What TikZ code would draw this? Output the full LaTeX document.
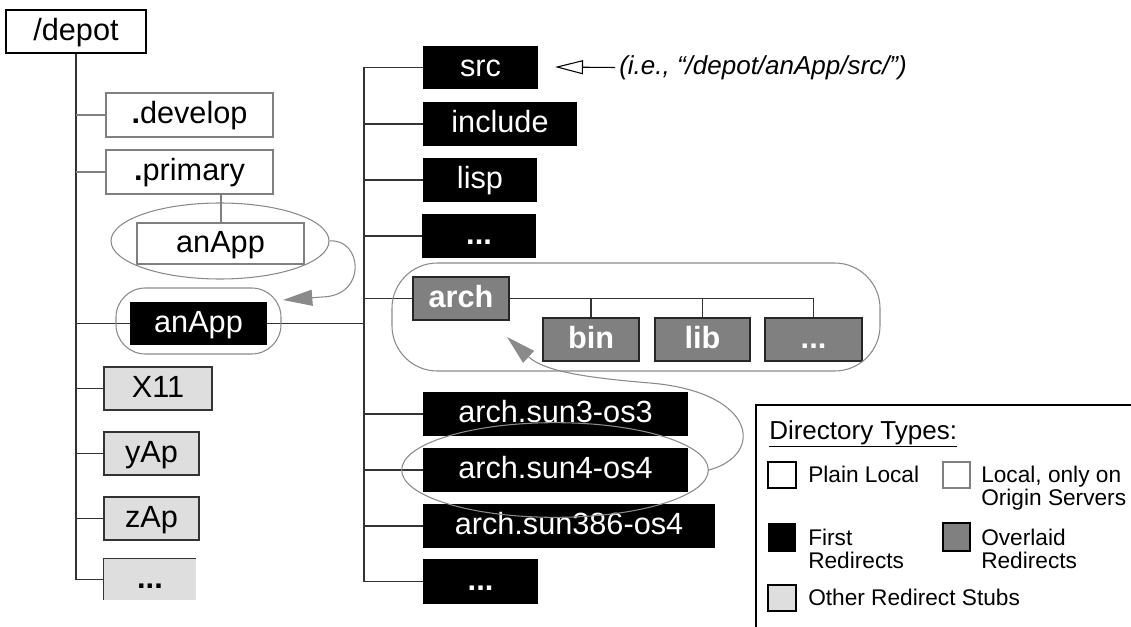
\documentclass[tikz,border=0pt]{standalone}
\usepackage{fontspec}
\setmainfont{Liberation Sans}
\usetikzlibrary{shapes.geometric,arrows.meta}
\definecolor{midgray}{HTML}{808080}
\definecolor{stubgray}{HTML}{DEDEDE}
\definecolor{halogray}{HTML}{8A8A8A}
\begin{document}
\begin{tikzpicture}[x=0.75pt,y=-0.75pt,
  rect/.style n args={4}{at={({(#1+#3)/2},{(#2+#4)/2})}, minimum width={(#3-#1)*0.75pt}, minimum height={(#4-#2)*0.75pt}},
  box/.style={inner sep=0pt, font=\fontsize{23}{26}\selectfont, text height=16pt, text depth=3pt},
  plainbox/.style={box, draw=black, fill=white, line width=1.1pt},
  originbox/.style={box, draw=midgray, fill=white, line width=1.5pt},
  firstbox/.style={box, fill=black, text=white},
  overbox/.style={box, fill=midgray, draw=black!85, line width=1pt, text=white, font=\fontsize{23}{26}\selectfont\bfseries},
  stubbox/.style={box, fill=stubgray, draw=black!80, line width=1pt},
  tree/.style={draw=black!80, line width=1pt},
  treegray/.style={draw=midgray, line width=1.5pt},
  halo/.style={draw=halogray, line width=0.8pt, inner sep=0pt},
  redir/.style={draw=halogray, line width=0.8pt, -{Triangle[length=22pt,width=12pt]}},
  legtext/.style={font=\fontsize{17}{17}\selectfont, inner sep=0pt, anchor=base west, align=left},
  legkey/.style={inner sep=0pt, line width=1.3pt}]
\useasboundingbox (0,0) rectangle (1131,627);

% ---- left column
\node (depot) [plainbox, rect={6}{10}{146}{53}] {/depot};
\node (develop) [originbox, rect={106}{93}{273}{137}] {\textbf{.}develop};
\node (primary) [originbox, rect={106}{150}{273}{194}] {\textbf{.}primary};
\node (anAppO) [originbox, rect={137}{223}{304}{264}] {anApp};
\node (anApp) [firstbox, rect={130}{302}{267}{345}] {anApp};
\node (x11) [stubbox, rect={104}{367}{212}{410}] {X11};
\node (yap) [stubbox, rect={104}{432}{199}{475}] {yAp};
\node (zap) [stubbox, rect={104}{497}{199}{540}] {zAp};
\node (ldots) [box, fill=stubgray, rect={104}{559}{196}{600}] {\textbf{...}};
\draw[tree] (ldots.south west) -- (ldots.north west) -- (ldots.north east);

% ---- right column
\node (src) [firstbox, rect={423}{46}{538}{89}] {src};
\node (include) [firstbox, rect={423}{102}{577}{146}] {include};
\node (lisp) [firstbox, rect={423}{158}{537}{202}] {lisp};
\node (rdots) [firstbox, rect={422}{214}{536}{258}] {\textbf{...}};
\node (arch) [overbox, rect={413}{277}{509}{320}] {arch};
\node (bin) [overbox, rect={543}{318}{639}{361}] {bin};
\node (lib) [overbox, rect={655}{318}{750}{361}] {lib};
\node (adots) [overbox, rect={765}{318}{862}{361}] {...};
\node (sun3) [firstbox, rect={423}{392}{688}{436}] {arch.sun3-os3};
\node (sun4) [firstbox, rect={423}{448}{688}{492}] {arch.sun4-os4};
\node (sun386) [firstbox, rect={423}{504}{715}{548}] {arch.sun386-os4};
\node (sdots) [firstbox, rect={423}{559}{538}{604}] {\textbf{...}};

% ---- left tree
\draw[tree] (depot.south) -- (depot.south |- ldots.west);
\draw[treegray] (depot.south |- develop.west) -- (develop.west);
\draw[treegray] (depot.south |- primary.west) -- (primary.west);
\draw[treegray] (primary.south -| anAppO.north) -- (anAppO.north);
\draw[tree] (depot.south |- anApp.west) -- (anApp.west);
\draw[tree] (depot.south |- x11.west) -- (x11.west);
\draw[tree] (depot.south |- yap.west) -- (yap.west);
\draw[tree] (depot.south |- zap.west) -- (zap.west);
\draw[tree] (depot.south |- ldots.west) -- (ldots.west);

% ---- right tree
\coordinate (rt) at (364,67);
\draw[tree] (anApp.east) -- (anApp.east -| rt);
\draw[tree] (rt |- src.west) -- (rt |- sdots.west);
\foreach \n in {src,include,lisp,rdots,arch,sun3,sun4,sun386,sdots}
  \draw[tree] (rt |- \n.west) -- (\n.west);
\draw[tree] (arch.east) -- (arch.east -| adots.north) -- (adots.north);
\draw[tree] (arch.east -| bin.north) -- (bin.north);
\draw[tree] (arch.east -| lib.north) -- (lib.north);

% ---- halos
\node (haloO) [halo, ellipse, minimum width=163.5pt, minimum height=57pt] at (220,241) {};
\node (haloA) [halo, rounded corners=22pt, rect={116}{288}{281}{354}] {};
\node (haloArch) [halo, rounded corners=34pt, rect={392}{263}{880}{371}] {};
\node (haloS) [halo, ellipse, minimum width=230pt, minimum height=71pt] at (555,470) {};

% ---- redirect arrows
\coordinate (tipA) at (283,300);
\draw[redir] (haloO.east) .. controls (362,238) and (368,296) .. (322,297) -- (tipA);
\coordinate (tipB) at (507,337);
\draw[redir] (haloS.east) .. controls (765,455) and (757,392) .. (650,383) .. controls (590,378) and (545,372) .. (tipB);

% ---- annotation
\node (note) [anchor=base west, inner sep=0pt, font=\fontsize{19.5}{22}\selectfont\itshape] at (619,75) {(i.e., “/depot/anApp/src/”)};
\coordinate (srcTip) at (555,67);
\draw[line width=0.8pt, -{Triangle[open, length=21pt, width=10.5pt]}] ([xshift=-3pt]note.west |- src.east) -- (srcTip);

% ---- legend
\draw[line width=1.3pt] (756,627) -- (756,405) -- (1131,405);
\node (legtitle) [legtext, font=\fontsize{19.5}{20}\selectfont] at (769,439) {\underline{Directory Types:}};
\node (kPlain) [legkey, draw=black, fill=white, rect={768}{462}{796}{488}] {};
\node (tPlain) [legtext] at (808,482) {Plain Local};
\node (kOrigin) [legkey, draw=midgray, fill=white, rect={943}{462}{970}{488}] {};
\node (tOrigin) [legtext] at (981,505) {Local, only on\\Origin Servers};
\node (kFirst) [legkey, fill=black, rect={768}{523}{796}{552}] {};
\node (tFirst) [legtext] at (808,568) {First\\Redirects};
\node (kOver) [legkey, draw=black, fill=midgray, rect={943}{523}{970}{551}] {};
\node (tOver) [legtext] at (981,568) {Overlaid\\Redirects};
\node (kStub) [legkey, draw=black, fill=stubgray, rect={768}{585}{796}{611}] {};
\node (tStub) [legtext] at (808,605) {Other Redirect Stubs};
\end{tikzpicture}
\end{document}
